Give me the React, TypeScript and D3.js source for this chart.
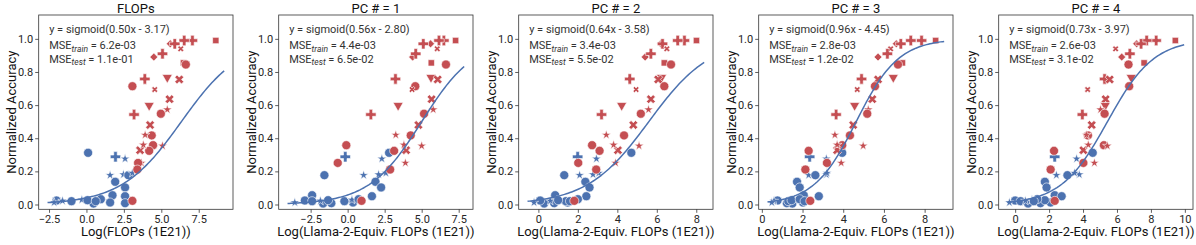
import { useEffect, useRef } from "react";
import * as d3 from "d3";

const BLUE = "#4c72b0";
const RED = "#c44e52";
const FONT = "Roboto, 'DejaVu Sans', sans-serif";

// one entry per panel
const panelTitles = ["FLOPs", "PC # = 1", "PC # = 2", "PC # = 3", "PC # = 4"];
const xLabels = [
  "Log(FLOPs (1E21))",
  "Log(Llama-2-Equiv. FLOPs (1E21))",
  "Log(Llama-2-Equiv. FLOPs (1E21))",
  "Log(Llama-2-Equiv. FLOPs (1E21))",
  "Log(Llama-2-Equiv. FLOPs (1E21))",
];
const slopes = [0.5, 0.56, 0.64, 0.96, 0.73];
const intercepts = [-3.17, -2.8, -3.58, -4.45, -3.97];
const mseTrain = ["6.2e-03", "4.4e-03", "3.4e-03", "2.8e-03", "2.6e-03"];
const mseTest = ["1.1e-01", "6.5e-02", "5.5e-02", "1.2e-02", "3.1e-02"];
const curveRanges = [[-2.6, 9.2], [-4.06, 7.87], [-0.55, 8.4], [0.28, 8.96], [-0.45, 9.96]];
const xTicks = [
  [-2.5, 0, 2.5, 5, 7.5],
  [-2.5, 0, 2.5, 5, 7.5],
  [0, 2, 4, 6, 8],
  [0, 2, 4, 6, 8],
  [0, 2, 4, 6, 8, 10],
];
const xTickDecimals = [1, 1, 0, 0, 0];
const yTicks = [0, 0.2, 0.4, 0.6, 0.8, 1.0];

// held-out points (red)
const testY = [0.99, 0.99, 0.99, 0.97, 0.97, 0.94, 0.89, 0.91, 0.855, 0.845, 0.758, 0.767, 0.755, 0.714, 0.694, 0.636,
  0.598, 0.573, 0.543, 0.548, 0.48, 0.417, 0.42, 0.358, 0.354, 0.328, 0.324, 0.251, 0.251, 0.211, 0.022, 0.36];
const testMarker = ["s", "P", "P", "D", "P", "x", "D", "P", "s", "o", "P", "v", "X", "o", "x", "X",
  "v", "*", "P", "o", "X", "o", "*", "o", "*", "X", "o", "*", "o", "o", "o", "*"];
const testX1 = [8.64, 7.08, 6.53, 5.6, 5.9, 6.3, 4.5, 5.08, 6.48, 6.64, 3.9, 5.4, 6.2, 3.07, 4.56, 5.55,
  4.19, 5.4, 3.18, 4.97, 4.25, 4.36, 3.92, 4.45, 5.08, 3.58, 4.19, 3.67, 3.45, 3.4, 3.07, 3.8];
const testX2 = [7.29, 6.5, 6.17, 5.6, 5.11, 6.05, 4.39, 4.6, 5.65, 6.64, 3.23, 5.63, 6.08, 4.57, 4.35, 5.67,
  3.41, 5.78, 1.57, 5.16, 4.78, 4.26, 3.25, -0.09, 5.0, 3.95, 3.14, 3.9, -0.67, 2.87, 0.94, 3.8];
const testX3 = [8.01, 7.4, 7.06, 6.2, 6.29, 6.51, 5.41, 5.7, 6.38, 6.72, 4.63, 6.24, 6.07, 6.38, 4.95, 5.7,
  4.22, 5.58, 3.2, 5.19, 4.81, 4.34, 3.44, 2.72, 5.1, 4.03, 3.1, 3.91, 2.02, 2.93, 1.82, 3.81];
const testX4 = [8.54, 7.85, 7.32, 6.61, 6.83, 6.33, 5.71, 6.17, 6.91, 6.69, 4.9, 6.46, 5.71, 5.56, 4.69, 5.43,
  4.56, 5.23, 3.65, 5.18, 4.49, 4.33, 3.59, 3.95, 4.98, 3.7, 2.3, 3.9, 3.2, 2.14, 2.38, 3.7];
const testX5 = [9.44, 8.31, 7.75, 7.16, 7.42, 5.92, 6.28, 6.76, 7.6, 6.68, 5.27, 6.84, 5.57, 6.72, 4.27, 5.33,
  5.31, 5.03, 3.96, 5.27, 4.51, 4.29, 4.2, 5.23, 5.43, 4.02, 2.29, 4.67, 4.02, 2.09, 2.33, 4.31];

// fitted points (blue)
const trainY = [0.312, 0.288, 0.276, 0.177, 0.181, 0.177, 0.137, 0.103, 0.056, 0.05, 0.012, 0.008, 0.006,
  0.024, 0.02, 0.022, 0.028, 0.026, 0.032, 0.02, 0.012, 0.19];
const trainMarker = ["o", "P", "*", "*", "*", "o", "o", "o", "o", "o", "o", "o", "o",
  "o", "o", "*", "*", "o", "o", "o", "*", "*"];
const trainX1 = [0.11, 1.94, 2.58, 1.58, 2.47, 2.8, 1.92, 2.58, 1.74, 2.58, 1.58, 2.58, 0.47,
  -2.0, -1.0, -1.6, -0.31, 0.07, 0.96, 0.62, -2.16, 3.07];
const trainX2 = [2.8, -0.16, 2.31, 1.08, 2.09, -1.57, 1.88, 2.26, -2.4, 1.64, 0.36, -1.1, -1.66,
  -2.89, -0.22, -1.84, 0.29, -1.32, 0.74, -2.4, -3.57, 2.58];
const trainX3 = [4.71, 1.99, 2.94, 2.09, 2.77, 1.31, 2.38, 2.59, 0.85, 2.43, 1.48, 0.8, 0.29,
  0.09, 1.39, 0.6, 1.9, 1.0, 2.0, 1.6, -0.22, 3.06];
const trainX4 = [3.95, 2.35, 3.17, 2.3, 3.17, 2.63, 1.73, 1.86, 2.06, 2.8, 2.02, 1.23, 1.5,
  0.77, 1.3, 0.6, 1.6, 1.46, 1.86, 2.1, 0.49, 3.2];
const trainX5 = [4.57, 2.33, 3.62, 2.43, 3.78, 3.08, 1.75, 1.85, 2.33, 2.74, 2.09, 1.49, 0.76,
  0.0, 0.32, 0.6, 0.99, 1.75, 1.3, 1.1, -0.34, 3.5];

const testXs = [testX1, testX2, testX3, testX4, testX5];
const trainXs = [trainX1, trainX2, trainX3, trainX4, trainX5];

const markerStyle: Record<string, [d3.SymbolType, number, number]> = {
  o: [d3.symbolCircle, 64, 0],
  "*": [d3.symbolStar, 28, 0],
  P: [d3.symbolCross, 60, 0],
  X: [d3.symbolCross, 50, 45],
  x: [d3.symbolCross, 24, 45],
  v: [d3.symbolTriangle, 44, 180],
  s: [d3.symbolSquare, 40, 0],
  D: [(d3 as any).symbolDiamond2 || d3.symbolDiamond, 40, 0],
};

export default function App() {
  const ref = useRef<SVGSVGElement>(null);

  useEffect(() => {
    const svg = d3.select(ref.current);
    svg.selectAll("*").remove();

    const top = 15, h = 194.3, w = 194.3;

    panelTitles.forEach((title, i) => {
      const left = 38.7 + 240 * i;
      const [c0, c1] = curveRanges[i];
      const pad = (c1 - c0) * 0.05;
      const x = d3.scaleLinear().domain([c0 - pad, c1 + pad]).range([left, left + w]);
      const y = d3.scaleLinear().domain([-0.029, 1.144]).range([top + h, top]);
      const g = svg.append("g");

      // points
      const drawPts = (xs: number[], ys: number[], ms: string[], color: string) => {
        g.append("g").selectAll("path")
          .data(ys.map((v, k) => ({ x: xs[k], y: v, m: ms[k] })))
          .enter()
          .append("path")
          .attr("d", (d) => d3.symbol().type(markerStyle[d.m][0]).size(markerStyle[d.m][1])())
          .attr("transform", (d) => "translate(" + x(d.x) + "," + y(d.y) + ") rotate(" + markerStyle[d.m][2] + ")")
          .attr("fill", color)
          .attr("stroke", "white")
          .attr("stroke-width", 0.6);
      };
      drawPts(trainXs[i], trainY, trainMarker, BLUE);
      drawPts(testXs[i], testY, testMarker, RED);

      // fitted sigmoid
      const line = d3.line<number>()
        .x((v) => x(v))
        .y((v) => y(1 / (1 + Math.exp(-(slopes[i] * v + intercepts[i])))));
      g.append("path")
        .attr("d", line(d3.range(0, 101).map((k) => c0 + (c1 - c0) * k / 100)))
        .attr("fill", "none")
        .attr("stroke", BLUE)
        .attr("stroke-width", 1.5);

      // axes
      const fmt = (v: number) => v.toFixed(xTickDecimals[i]).replace("-", "\u2212");
      const xa = g.append("g")
        .attr("transform", "translate(0," + (top + h) + ")")
        .call(d3.axisBottom(x).tickValues(xTicks[i]).tickFormat(fmt as any).tickSize(3.5).tickPadding(2));
      const ya = g.append("g")
        .attr("transform", "translate(" + left + ",0)")
        .call(d3.axisLeft(y).tickValues(yTicks).tickFormat(d3.format(".1f")).tickSize(3.5).tickPadding(2));
      [xa, ya].forEach((a) => {
        a.select(".domain").remove();
        a.selectAll("line").attr("stroke", "#333").attr("stroke-width", 0.8);
        a.selectAll("text").attr("font-family", FONT).attr("font-size", 11).attr("fill", "#262626");
      });

      g.append("rect")
        .attr("x", left).attr("y", top).attr("width", w).attr("height", h)
        .attr("fill", "none").attr("stroke", "#333").attr("stroke-width", 0.8);

      // labels
      g.append("text")
        .attr("x", left + w / 2).attr("y", 13)
        .attr("text-anchor", "middle")
        .attr("font-family", FONT).attr("font-size", 13).attr("fill", "#111")
        .text(title);
      g.append("text")
        .attr("x", left + w / 2).attr("y", 235.5)
        .attr("text-anchor", "middle")
        .attr("font-family", FONT).attr("font-size", 13).attr("fill", "#111")
        .text(xLabels[i]);
      g.append("text")
        .attr("transform", "translate(" + (left - 22.5) + "," + (top + h / 2) + ") rotate(-90)")
        .attr("text-anchor", "middle")
        .attr("font-family", FONT).attr("font-size", 13).attr("fill", "#111")
        .text("Normalized Accuracy");

      // fit annotation
      const ann = g.append("g").attr("font-family", FONT).attr("font-size", 11).attr("fill", "#333");
      const b = intercepts[i];
      ann.append("text").attr("x", left + 10.5).attr("y", 32.5)
        .text("y = sigmoid(" + slopes[i].toFixed(2) + "x " + (b < 0 ? "- " : "+ ") + Math.abs(b).toFixed(2) + ")");
      [["train", mseTrain[i], 49], ["test", mseTest[i], 62.5]].forEach(([sub, val, yy]) => {
        const t = ann.append("text").attr("x", left + 10.5).attr("y", yy as number);
        t.append("tspan").text("MSE");
        t.append("tspan").attr("font-size", 8.5).attr("font-style", "italic").attr("dy", 2.5).text(sub as string);
        t.append("tspan").attr("dy", -2.5).text(" = " + val);
      });
    });
  }, []);

  return (
    <svg ref={ref} width={1196} height={245} style={{ position: "absolute", left: 0, top: 0, background: "white" }} />
  );
}
